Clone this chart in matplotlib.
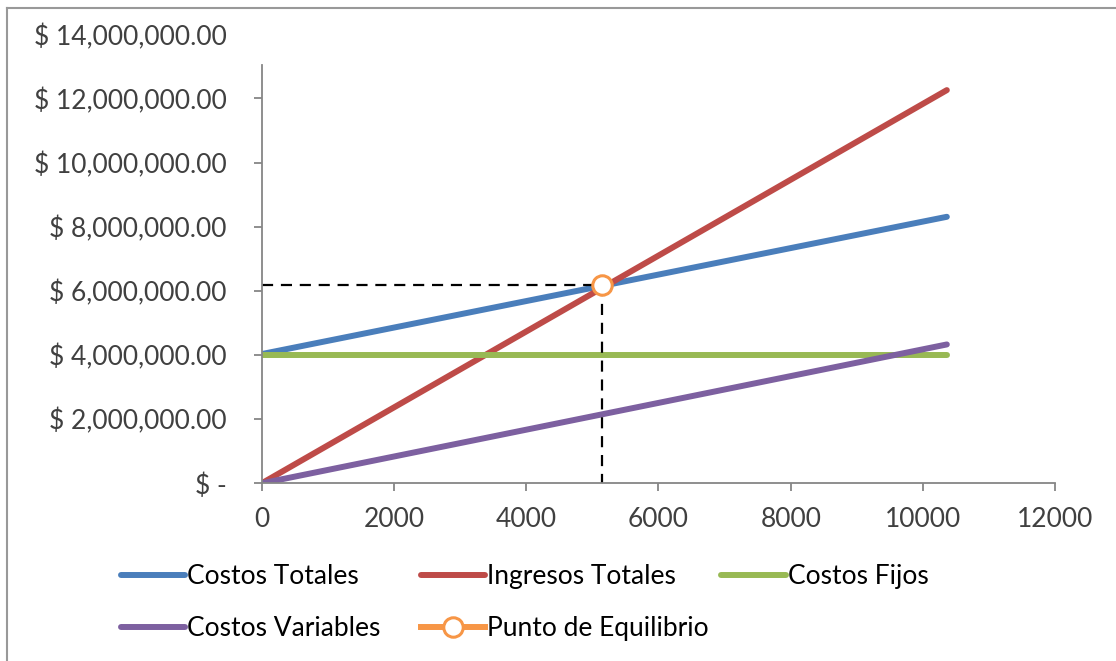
import matplotlib
matplotlib.use("Agg")
import matplotlib.pyplot as plt
from matplotlib.lines import Line2D
from matplotlib.ticker import FuncFormatter

plt.rcParams['font.family'] = ['Lato', 'DejaVu Sans']

# valores
unidades = [0, 10360]
costos_totales = [4030000, 8310000]
ingresos_totales = [0, 12260000]
costos_fijos = [4000000, 4000000]
costos_variables = [0, 4330000]
equilibrio_x = 5150
equilibrio_y = 6180000

x_ticks = [0, 2000, 4000, 6000, 8000, 10000, 12000]
y_ticks = [0, 2000000, 4000000, 6000000, 8000000, 10000000, 12000000, 14000000]

azul = "#4A7EBB"
rojo = "#BE4B48"
verde = "#98B954"
morado = "#7D60A0"
naranja = "#F79646"
gris = "#868686"
texto = "#404040"
fs = 19

fig = plt.figure(figsize=(11.16, 6.61), dpi=100)
ax = fig.add_axes([0.2345, 0.2688, 0.7111, 0.6793])

lw = 4.3
l1, = ax.plot(unidades, costos_totales, color=azul, lw=lw, solid_capstyle="round", label="Costos Totales")
l2, = ax.plot(unidades, ingresos_totales, color=rojo, lw=lw, solid_capstyle="round", label="Ingresos Totales")
l3, = ax.plot(unidades, costos_fijos, color=verde, lw=lw, solid_capstyle="round", label="Costos Fijos")
l4, = ax.plot(unidades, costos_variables, color=morado, lw=lw, solid_capstyle="round", label="Costos Variables")

# lineas guia del punto de equilibrio
ax.plot([0, equilibrio_x], [equilibrio_y, equilibrio_y], color="black", lw=1.6, dashes=(5, 3.5))
ax.plot([equilibrio_x, equilibrio_x], [equilibrio_y, 0], color="black", lw=1.6, dashes=(5, 3.5))
l5, = ax.plot([equilibrio_x], [equilibrio_y], color=naranja, lw=lw, marker="o", markersize=14,
              markerfacecolor="white", markeredgecolor=naranja, markeredgewidth=2.2, zorder=5,
              label="Punto de Equilibrio")

ax.set_xlim(0, 12000)
ax.set_ylim(0, 14000000)
ax.set_xticks(x_ticks)
ax.set_yticks(y_ticks)


def pesos(v, pos):
    if v == 0:
        return "$ -"
    return "$ {:,.2f}".format(v)


ax.yaxis.set_major_formatter(FuncFormatter(pesos))
ax.tick_params(axis="both", colors=gris, labelcolor=texto, labelsize=fs, length=6, width=1.3)
ax.tick_params(axis="y", pad=19)
ax.tick_params(axis="x", pad=11)

for s in ["top", "right"]:
    ax.spines[s].set_visible(False)
for s in ["left", "bottom"]:
    ax.spines[s].set_color(gris)
    ax.spines[s].set_linewidth(1.3)
# en el original el eje vertical termina antes del ultimo rotulo
ax.spines["left"].set_bounds(0, 13040000)
ax.yaxis.get_major_ticks()[-1].tick1line.set_visible(False)

# leyenda en columnas fijas como en Excel
columnas = [([l1, l4], 0.108), ([l2, l5], 0.377), ([l3], 0.646)]
for handles, xpos in columnas:
    leg = fig.legend(handles=handles, loc="upper left", bbox_to_anchor=(xpos, 0.146),
                     frameon=False, fontsize=fs, handlelength=2.45, handletextpad=0.08,
                     labelspacing=1.02, borderaxespad=0, borderpad=0)
    for t in leg.get_texts():
        t.set_color("black")

# borde del area del grafico
fig.add_artist(Line2D([0.0065, 0.0065], [0, 0.988], color="#999999", lw=1.5))
fig.add_artist(Line2D([0.0065, 1], [0.988, 0.988], color="#999999", lw=1.5))

fig.savefig("out.png", dpi=100)
